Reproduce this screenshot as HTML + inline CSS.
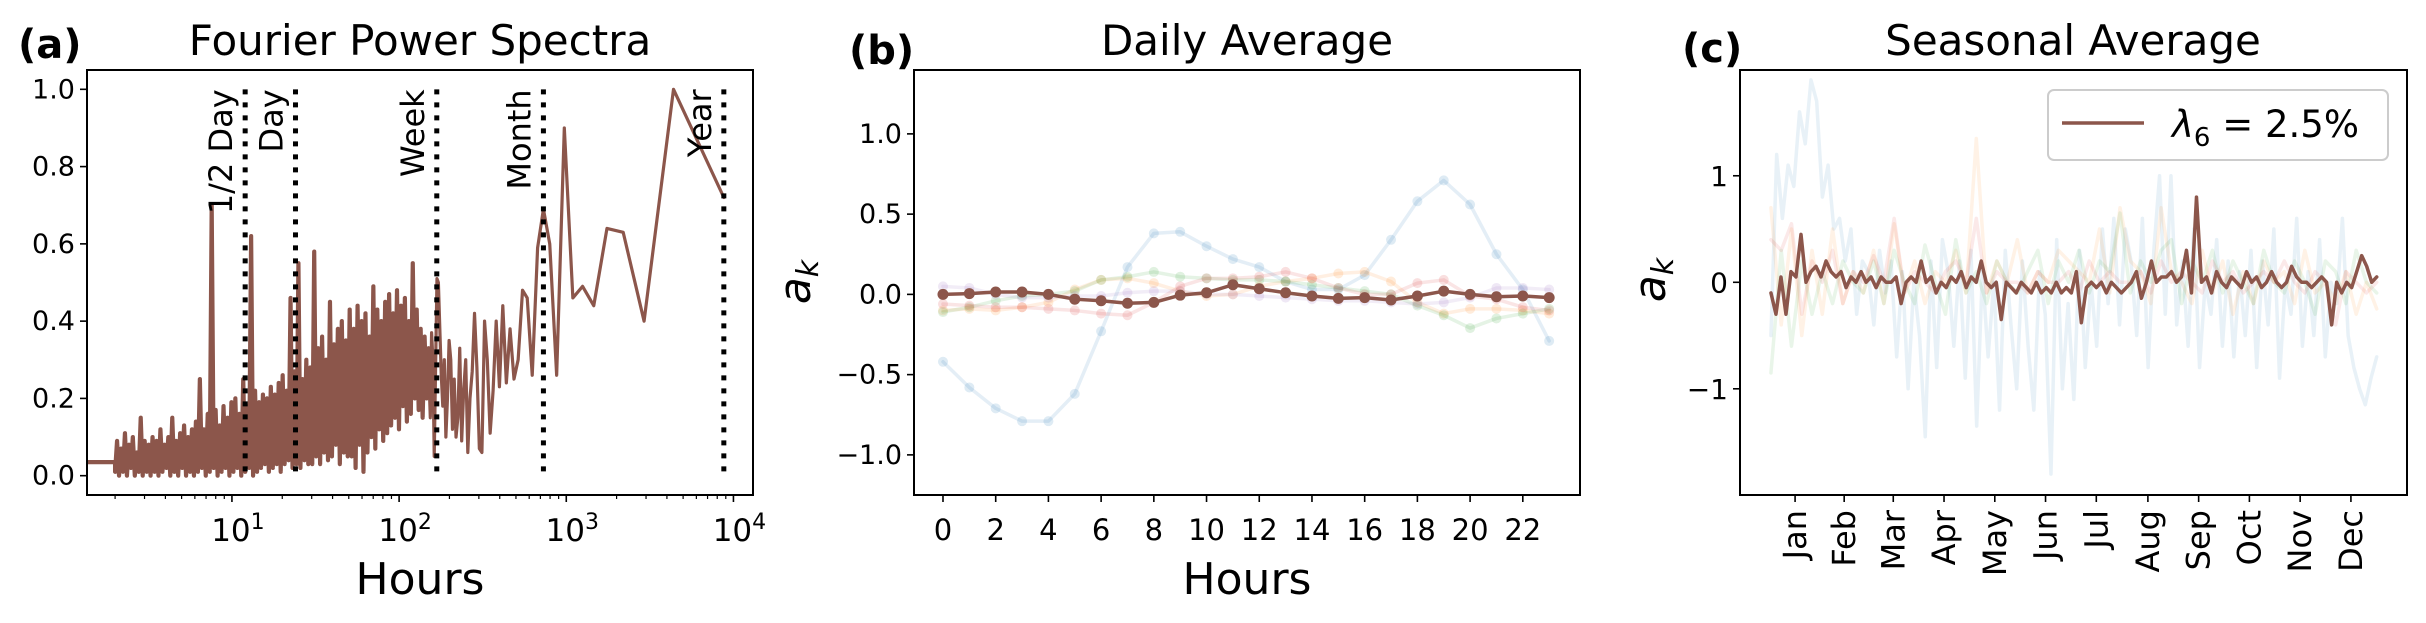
<!DOCTYPE html>
<html><head><meta charset="utf-8">
<style>
html,body{margin:0;padding:0;background:#fff;}
svg{display:block;font-family:"DejaVu Sans","Liberation Sans",sans-serif;}
</style></head>
<body>
<svg id="fig" width="2426" height="623" viewBox="0 0 2426 623" xmlns="http://www.w3.org/2000/svg">
<defs>
<clipPath id="clipA"><rect x="87" y="70" width="666" height="425"/></clipPath>
<clipPath id="clipB"><rect x="914" y="70" width="666" height="425"/></clipPath>
<clipPath id="clipC"><rect x="1740" y="70" width="667" height="425"/></clipPath>
</defs>
</svg>
<script>
// ---------- Panel (a) data ----------
const sparseK = [1,2,3,4,5,6,7,8,9,10,11,12,13,14,15,16,17,18,19,20,21,22,23,24,25,26,27,28,29,30,31,32,33,34,35,36,37,38,39,40,41,42,43,44,45,46,47,48,49,50,51,52,53,54,55,56,57,58];
const sparseVals = [0.72,1.0,0.40,0.63,0.64,0.44,0.49,0.46,0.90,0.26,0.60,0.69,0.59,0.26,0.46,0.48,0.30,0.25,0.38,0.24,0.44,0.23,0.40,0.22,0.11,0.30,0.40,0.06,0.07,0.28,0.42,0.27,0.20,0.06,0.30,0.22,0.09,0.33,0.15,0.10,0.25,0.12,0.30,0.35,0.20,0.10,0.30,0.18,0.26,0.38,0.50,0.51,0.28,0.05,0.30,0.37,0.15,0.25];
const denseVals = [0.035,
.01,.09,.0,.07,.01,.11,.0,.08,.02,.1,.0,.06,.01,.15,.0,.09,.01,.08,.0,.1,
.01,.09,.0,.12,.01,.08,.02,.1,.0,.15,.01,.09,.0,.11,.02,.13,.0,.1,.01,.12,
.0,.14,.01,.25,.02,.12,.0,.16,.01,.7,.02,.17,.0,.13,.01,.18,.02,.15,.0,.19,
.01,.2,.02,.16,.0,.25,.01,.18,.02,.62,.0,.22,.01,.19,.02,.21,.03,.2,.01,.23,
.02,.21,.03,.24,.01,.26,.03,.22,.04,.46,.02,.27,.03,.55,.02,.25,.04,.3,.03,.28,
.03,.58,.05,.33,.03,.36,.06,.3,.04,.45,.05,.34,.08,.38,.03,.4,.06,.35,.05,.43,
.05,.38,.02,.44,.08,.4,.01,.42,.06,.36,.1,.49,.07,.43,.12,.4,.09,.45,.11,.47,
.13,.42,.15,.48,.12,.44,.18,.46,.14,.4,.16,.55,.2,.43,.17,.38,.15,.36,.2,.33];
const markerHours = [12,24,168,730,8760];
const markerLabels = ["1/2 Day","Day","Week","Month","Year"];
const aYTicks = [0.0,0.2,0.4,0.6,0.8,1.0];
const aXDecades = [1,2,3,4];
const totalHours = 8760;

// ---------- Panel (b) data ----------
const hours = [0,1,2,3,4,5,6,7,8,9,10,11,12,13,14,15,16,17,18,19,20,21,22,23];
const dailyBlue = [-0.42,-0.58,-0.71,-0.79,-0.79,-0.62,-0.23,0.17,0.38,0.39,0.30,0.22,0.17,0.08,0.03,0.03,0.12,0.34,0.58,0.71,0.56,0.25,0.03,-0.29];
const dailyOrange = [-0.1,-0.09,-0.1,-0.08,-0.05,0.03,0.09,0.1,0.07,0.02,-0.01,0.0,0.05,0.08,0.1,0.13,0.14,0.08,-0.05,-0.12,-0.09,-0.09,-0.1,-0.12];
const dailyGreen = [-0.11,-0.08,-0.04,-0.01,0.0,0.02,0.09,0.11,0.14,0.11,0.1,0.09,0.09,0.08,0.06,0.04,0.02,0.0,-0.07,-0.13,-0.21,-0.15,-0.12,-0.09];
const dailyRed = [-0.06,-0.07,-0.08,-0.08,-0.09,-0.1,-0.12,-0.13,-0.05,0.05,0.1,0.1,0.11,0.14,0.1,0.04,0.0,0.0,0.07,0.09,-0.01,-0.03,-0.08,-0.1];
const dailyPurple = [0.05,0.04,0.0,-0.02,-0.02,-0.01,-0.01,0.01,0.02,0.02,0.0,0.0,-0.01,-0.02,-0.03,-0.04,-0.04,-0.05,-0.06,-0.05,-0.02,0.04,0.04,0.03];
const dailyBrown = [0.0,0.005,0.015,0.015,0.0,-0.03,-0.04,-0.055,-0.05,-0.005,0.01,0.06,0.035,0.01,-0.01,-0.025,-0.02,-0.035,-0.01,0.02,0.0,-0.015,-0.01,-0.02];
const bXTicks = [0,2,4,6,8,10,12,14,16,18,20,22];
const bYTicks = [-1.0,-0.5,0.0,0.5,1.0];
const bYTickLabels = ["\u22121.0","\u22120.5","0.0","0.5","1.0"];

// ---------- Panel (c) data ----------
const seasonBrown = [-0.1,-0.3,0.05,-0.3,0.1,0.05,0.45,0.0,0.1,0.15,0.05,0.2,0.1,0.05,0.1,-0.05,0.05,0.0,0.1,0.0,0.05,-0.05,0.05,0.0,0.0,0.05,-0.2,0.0,0.05,0.0,0.2,0.0,0.05,-0.1,0.0,-0.05,0.05,0.0,0.1,-0.05,0.05,0.0,0.2,0.0,-0.05,0.0,-0.35,0.0,-0.05,-0.1,0.0,-0.05,-0.1,0.0,-0.1,-0.05,-0.1,0.0,-0.1,-0.05,-0.1,0.1,-0.38,-0.05,0.0,-0.05,0.0,-0.1,0.0,-0.05,-0.1,-0.05,0.0,0.1,-0.15,0.0,0.2,0.0,0.05,0.05,0.1,0.0,0.05,0.3,-0.1,0.8,0.0,0.05,-0.1,0.1,0.0,-0.05,0.05,0.0,-0.05,0.1,0.0,0.05,-0.05,0.0,0.1,0.0,-0.05,0.0,0.15,0.05,0.0,0.0,-0.05,0.0,0.05,0.0,-0.4,0.0,-0.1,0.0,-0.05,0.1,0.25,0.15,0.0,0.05];
const seasonBlue = [-0.5,1.2,0.6,1.1,0.9,1.6,1.3,1.9,1.7,0.8,1.1,0.5,0.6,0.2,0.5,-0.3,0.2,0.1,-0.4,0.3,-0.1,0.2,-0.7,0.1,-1.0,0.0,-0.5,-1.45,0.2,-0.8,0.4,0.1,-0.6,0.2,-0.9,0.3,-1.35,0.1,-0.7,0.0,-1.2,0.3,-0.4,-1.0,0.2,-0.6,-1.2,0.1,-0.3,-1.8,0.4,-1.0,-0.2,-1.1,0.3,-0.8,0.0,-0.6,0.5,-0.2,0.6,-0.4,0.5,0.2,-0.5,0.6,-0.8,0.3,1.0,-0.3,1.0,-0.4,0.2,-0.6,0.5,-0.8,0.0,-0.3,0.4,-0.6,0.2,-0.7,0.1,-0.5,0.3,-0.8,0.2,-0.4,0.5,-0.9,0.0,-0.3,0.6,-0.6,0.1,-0.5,0.4,-0.7,0.0,-0.2,0.6,-0.5,-0.8,-1.0,-1.15,-0.9,-0.7];
const seasonOrange = [0.7,-0.4,0.5,-0.5,0.3,-0.3,0.5,-0.2,0.1,-0.1,0.3,-0.2,0.55,-0.1,0.2,-0.2,0.1,0.0,0.3,-0.1,1.35,-0.1,0.2,0.0,0.4,-0.1,0.1,0.0,0.3,0.2,0.1,0.0,0.5,-0.1,0.7,0.2,0.1,-0.2,0.7,0.1,0.0,-0.2,0.3,-0.1,0.2,-0.3,0.1,-0.2,0.2,0.0,0.1,-0.2,0.3,-0.1,0.0,-0.2,0.1,-0.3,0.0,-0.25];
const seasonGreen = [-0.85,0.3,-0.6,0.2,-0.3,0.1,-0.2,0.2,0.0,-0.1,0.2,-0.2,0.3,0.0,-0.2,0.35,0.0,-0.3,0.4,-0.1,0.1,-0.2,0.2,0.0,-0.1,0.1,0.3,-0.2,0.2,0.0,0.3,-0.1,0.2,0.1,0.65,-0.1,0.2,0.0,0.3,0.4,-0.2,0.2,0.0,0.3,-0.1,0.2,0.0,-0.2,0.3,0.0,-0.1,0.2,0.0,-0.3,0.2,0.1,-0.2,0.3,0.0,-0.1];
const seasonRed = [0.4,0.3,0.55,-0.3,0.2,0.0,0.3,-0.2,0.1,0.0,0.25,0.0,0.6,-0.1,0.1,0.0,-0.1,0.1,0.2,0.0,0.6,-0.1,0.1,0.0,0.0,-0.1,0.1,0.0,0.0,0.1,-0.1,0.2,0.0,0.1,0.0,0.0,0.1,-0.1,0.2,0.0,0.1,0.0,-0.1,0.2,0.0,0.1,-0.1,0.0,0.1,0.0,0.2,0.0,-0.1,0.1,0.0,-0.4,0.1,0.0,-0.1,0.0];
const months = ["Jan","Feb","Mar","Apr","May","Jun","Jul","Aug","Sep","Oct","Nov","Dec"];
const monthMidDays = [14.5,44,73.5,104,134.5,165,195.5,226.5,257,287.5,318,348.5];
const cYTicks = [-1,0,1];
const cYTickLabels = ["\u22121","0","1"];
const dayCount = 365;

const NS = "http://www.w3.org/2000/svg";
const svg = document.getElementById("fig");
function el(tag, parent){ const e = document.createElementNS(NS, tag); parent.appendChild(e); return e; }
function set(e, o){ for (const k in o) e.setAttribute(k, o[k]); return e; }

const A = {x0:87,x1:753,y0:70,y1:495, lxmin:0.133, lxmax:4.117, ymin:-0.05, ymax:1.05};
const ax = h => A.x0 + (Math.log10(h)-A.lxmin)/(A.lxmax-A.lxmin)*(A.x1-A.x0);
const ay = v => A.y1 - (v-A.ymin)/(A.ymax-A.ymin)*(A.y1-A.y0);
const B = {x0:914,x1:1580,y0:70,y1:495, xmin:-1.1, xmax:24.17, ymin:-1.25, ymax:1.398};
const bx = h => B.x0 + (h-B.xmin)/(B.xmax-B.xmin)*(B.x1-B.x0);
const by = v => B.y1 - (v-B.ymin)/(B.ymax-B.ymin)*(B.y1-B.y0);
const C = {x0:1740,x1:2407,y0:70,y1:495, xmin:-18.6, xmax:382.2, ymin:-1.997, ymax:1.993};
const cx = d => C.x0 + (d-C.xmin)/(C.xmax-C.xmin)*(C.x1-C.x0);
const cy = v => C.y1 - (v-C.ymin)/(C.ymax-C.ymin)*(C.y1-C.y0);

function text(parent, x, y, str, size, anchor, extra){
  const t = el("text", parent);
  set(t, {x:x, y:y, "font-size":size, "text-anchor":anchor||"middle", fill:"#000"});
  if (extra) set(t, extra);
  t.textContent = str;
  return t;
}
function polyline(parent, pts, color, width, opacity, clip){
  const p = el("polyline", parent);
  set(p, {points: pts.map(q=>q[0].toFixed(2)+","+q[1].toFixed(2)).join(" "), fill:"none", stroke:color, "stroke-width":width, "stroke-opacity":opacity, "stroke-linejoin":"round", "stroke-linecap":"round"});
  if (clip) p.setAttribute("clip-path", "url(#"+clip+")");
  return p;
}
function frame(parent, X){
  const r = el("rect", parent);
  set(r, {x:X.x0, y:X.y0, width:X.x1-X.x0, height:X.y1-X.y0, fill:"none", stroke:"#000", "stroke-width":2});
  return r;
}
function tick(parent, x1,y1,x2,y2,w){
  const l = el("line", parent);
  set(l, {x1:x1,y1:y1,x2:x2,y2:y2,stroke:"#000","stroke-width":w||1.6});
  return l;
}

// ================= Panel A =================
const gA = el("g", svg);


const tA = text(gA, 420, 55, "Fourier Power Spectra", 42);


const lA = text(gA, 18, 58, "(a)", 40, "start", {"font-weight":"bold"});



const densePts = [];
const nd = denseVals.length;
for (let i=0;i<nd;i++){
  const period = i===0 ? 1.0 : 2*Math.pow(75, (i-1)/(nd-2));
  densePts.push([ax(period), ay(denseVals[i])]);
}
densePts.splice(1,0,[ax(2), ay(denseVals[0])]);
const sparsePts = [densePts[densePts.length-1]];
for (let i=sparseK.length-1;i>=0;i--){
  sparsePts.push([ax(totalHours/sparseK[i]), ay(sparseVals[i])]);
}
const spec = polyline(gA, densePts, "#8c564b", 4.2, 1, "clipA");


const spec2 = polyline(gA, sparsePts, "#8c564b", 3.2, 1, "clipA");



markerHours.forEach((h,i)=>{
  const x = ax(h);
  const l = el("line", gA);
  set(l, {x1:x, y1:ay(1.0), x2:x, y2:ay(0), stroke:"#000", "stroke-width":5, "stroke-dasharray":"5 8"});
  
  
  const t = text(gA, 0, 0, markerLabels[i], 32, "end", {transform:"translate("+(x-13)+","+ay(1.0)+") rotate(-90)"});
  
  
});
frame(gA, A);
aYTicks.forEach(v=>{
  tick(gA, A.x0-7, ay(v), A.x0, ay(v));
  const t = text(gA, A.x0-12, ay(v)+9, v.toFixed(1), 27, "end");
  
  
});
for (let d=0; d<=4; d++){
  for (let m=1;m<=9;m++){
    const h = m*Math.pow(10,d);
    const lg = Math.log10(h);
    if (lg < A.lxmin || lg > A.lxmax) continue;
    tick(gA, ax(h), A.y1, ax(h), A.y1+(m===1?7:4), m===1?1.6:1.2);
  }
}
aXDecades.forEach(d=>{
  const x = ax(Math.pow(10,d));
  const t = el("text", gA);
  set(t, {x:x+6, y:541, "font-size":31, "text-anchor":"middle"});
  
  
  t.textContent = "10";
  const s = el("tspan", t);
  set(s, {dy:-12, "font-size":22});
  s.textContent = String(d);
});
const xlA = text(gA, 420, 594, "Hours", 44);



// ================= Panel B =================
const gB = el("g", svg);


const tB = text(gB, 1247, 55, "Daily Average", 42);


const lB = text(gB, 849, 64, "(b)", 40, "start", {"font-weight":"bold"});


const dailySeries = [[dailyBlue,"#1f77b4"],[dailyOrange,"#ff7f0e"],[dailyGreen,"#2ca02c"],[dailyRed,"#d62728"],[dailyPurple,"#9467bd"]];
dailySeries.forEach(([vals,col])=>{
  const pts = hours.map((h,i)=>[bx(h), by(vals[i])]);
  const p = polyline(gB, pts, col, 3.5, 0.12, "clipB");
  
  
  pts.forEach(q=>{
    const c = el("circle", gB);
    set(c, {cx:q[0], cy:q[1], r:5, fill:col, "fill-opacity":0.15});
    
    
  });
});
const bPts = hours.map((h,i)=>[bx(h), by(dailyBrown[i])]);
const bl = polyline(gB, bPts, "#8c564b", 3.5, 1, "clipB");


bPts.forEach(q=>{
  const c = el("circle", gB);
  set(c, {cx:q[0], cy:q[1], r:5.5, fill:"#8c564b"});
  
  
});
frame(gB, B);
bYTicks.forEach((v,i)=>{
  tick(gB, B.x0-7, by(v), B.x0, by(v));
  const t = text(gB, B.x0-12, by(v)+9, bYTickLabels[i], 27, "end");
  
  
});
bXTicks.forEach(h=>{
  tick(gB, bx(h), B.y1, bx(h), B.y1+7);
  const t = text(gB, bx(h), 540, String(h), 29);
  
  
});
const xlB = text(gB, 1247, 594, "Hours", 44);


const ylB = el("text", gB);
set(ylB, {"font-size":44, "text-anchor":"middle", transform:"translate(810,282) rotate(-90)", "font-style":"italic"});


ylB.textContent = "a";
const ylBs = el("tspan", ylB); set(ylBs, {dy:8, "font-size":30}); ylBs.textContent = "k";

// ================= Panel C =================
const gC = el("g", svg);


const tC = text(gC, 2073, 55, "Seasonal Average", 42);


const lC = text(gC, 1682, 62, "(c)", 40, "start", {"font-weight":"bold"});


function seasonPts(vals){ return vals.map((v,i)=>[cx(i*(dayCount-1)/(vals.length-1)), cy(v)]); }
[[seasonBlue,"#1f77b4"],[seasonOrange,"#ff7f0e"],[seasonGreen,"#2ca02c"],[seasonRed,"#d62728"]].forEach(([vals,col])=>{
  const p = polyline(gC, seasonPts(vals), col, 3.5, 0.1, "clipC");
  
  
});
const sl = polyline(gC, seasonPts(seasonBrown), "#8c564b", 3.5, 1, "clipC");


frame(gC, C);
cYTicks.forEach((v,i)=>{
  tick(gC, C.x0-7, cy(v), C.x0, cy(v));
  const t = text(gC, C.x0-12, cy(v)+10, cYTickLabels[i], 28, "end");
  
  
});
months.forEach((m,i)=>{
  const x = cx(monthMidDays[i]);
  tick(gC, x, C.y1, x, C.y1+7);
  const t = text(gC, 0, 0, m, 32, "end", {transform:"translate("+(x+11)+",510) rotate(-90)"});
  
  
});
const ylC = el("text", gC);
set(ylC, {"font-size":44, "text-anchor":"middle", transform:"translate(1665,280) rotate(-90)", "font-style":"italic"});


ylC.textContent = "a";
const ylCs = el("tspan", ylC); set(ylCs, {dy:8, "font-size":30}); ylCs.textContent = "k";

const lg = el("g", gC);


const lr = el("rect", lg);
set(lr, {x:2048, y:90, width:340, height:70, rx:6, fill:"#fff", "fill-opacity":0.8, stroke:"#cccccc", "stroke-width":2});
const ll = el("line", lg);
set(ll, {x1:2062, y1:123, x2:2144, y2:123, stroke:"#8c564b", "stroke-width":3.5});


const lt = el("text", lg);
set(lt, {x:2172, y:137, "font-size":37});


const lam = el("tspan", lt); set(lam, {"font-style":"italic"}); lam.textContent = "\u03bb";
const sub = el("tspan", lt); set(sub, {dy:9, "font-size":26}); sub.textContent = "6";
const rest = el("tspan", lt); set(rest, {dy:-9}); rest.textContent = " = 2.5%";
</script>
</body></html>
